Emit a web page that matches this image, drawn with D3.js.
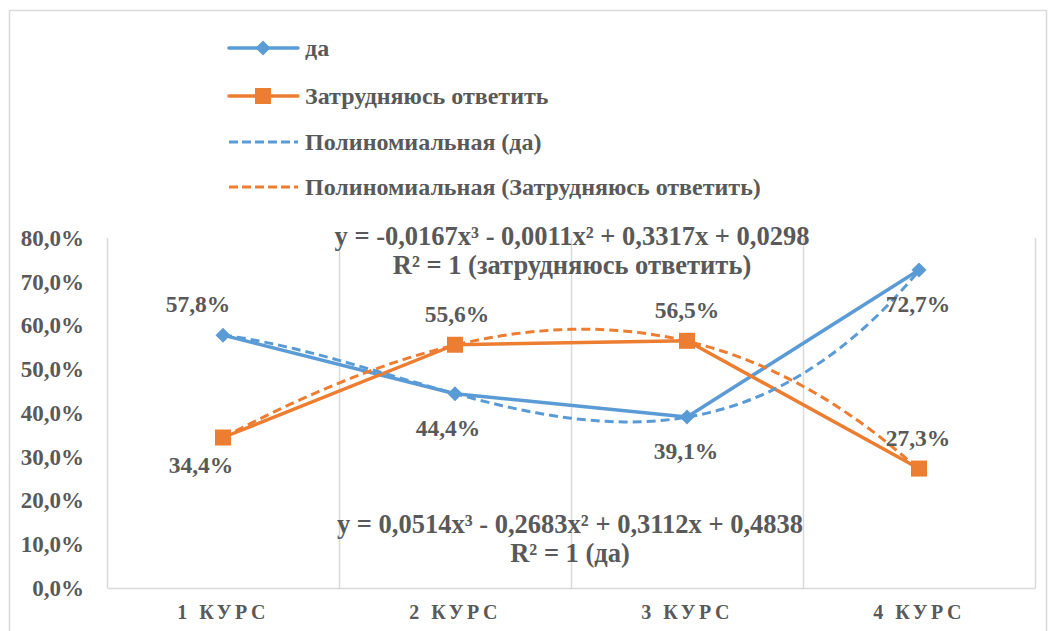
<!DOCTYPE html>
<html><head><meta charset="utf-8">
<script src="https://cdn.jsdelivr.net/npm/d3@7"></script>
<style>
html,body{margin:0;padding:0;background:#fff;}
text{font-family:"Liberation Serif","Times New Roman",serif;font-weight:bold;fill:#595959;}
</style></head>
<body><svg id="c" width="1049" height="631"></svg>
<script>
const categories = ["1 КУРС", "2 КУРС", "3 КУРС", "4 КУРС"];
const seriesDa = [0.578, 0.444, 0.391, 0.727];
const seriesZ = [0.344, 0.556, 0.565, 0.273];
const yTicks = [0, 0.1, 0.2, 0.3, 0.4, 0.5, 0.6, 0.7, 0.8];
// trendline coefficients as shown on chart: [a3, a2, a1, a0]
const trendDaCoef = [0.0514, -0.2683, 0.3112, 0.4838];
const trendZCoef = [-0.0167, -0.0011, 0.3317, 0.0298];
const legendLabels = ["да", "Затрудняюсь ответить", "Полиномиальная (да)", "Полиномиальная (Затрудняюсь ответить)"];
const eqZ = ["y = -0,0167x³ - 0,0011x² + 0,3317x + 0,0298", "R² = 1 (затрудняюсь ответить)"];
const eqDa = ["y = 0,0514x³ - 0,2683x² + 0,3112x + 0,4838", "R² = 1 (да)"];
const labelPosDa = ["above", "below", "below", "below"];
const labelPosZ = ["below", "above", "above", "above"];

const BLUE = "#5B9BD5", ORANGE = "#ED7D31", GRID = "#D9D9D9";
const svg = d3.select("#c");
const loc = d3.formatLocale({decimal: ",", thousands: " ", grouping: [3], currency: ["", ""], percent: "%"});
const fmt = loc.format(".1%");

// outer border
svg.append("rect").attr("x", 9.5).attr("y", 10.5).attr("width", 1037).attr("height", 630)
  .attr("fill", "none").attr("stroke", GRID).attr("stroke-width", 1.5);

const pL = 107, pR = 1035, pT = 238, pB = 588;
const x = d3.scaleBand().domain(categories).range([pL, pR]).paddingInner(0).paddingOuter(0);
const cx = c => x(c) + x.bandwidth() / 2;
const xn = d3.scaleLinear().domain([1, 4]).range([cx(categories[0]), cx(categories[3])]);
const y = d3.scaleLinear().domain([0, 0.8]).range([pB, pT]);

// vertical gridlines at category boundaries
const bounds = categories.map(c => x(c)).concat([x(categories[3]) + x.bandwidth()]);
svg.append("g").selectAll("line").data(bounds).join("line")
  .attr("x1", d => Math.round(d) + 0.5).attr("x2", d => Math.round(d) + 0.5)
  .attr("y1", pT).attr("y2", pB)
  .attr("stroke", GRID).attr("stroke-width", 1.5);

// y axis
const yAxis = svg.append("g").attr("transform", `translate(${pL},0)`)
  .call(d3.axisLeft(y).tickValues(yTicks).tickFormat(fmt).tickSize(0).tickPadding(23));
yAxis.select(".domain").remove();
yAxis.selectAll("text").attr("font-size", 23).style("font-family", "Liberation Serif").style("font-weight", "bold").attr("fill", "#595959");

// x axis
const xAxis = svg.append("g").attr("transform", `translate(0,${pB})`)
  .call(d3.axisBottom(x).tickSize(0).tickPadding(17));
xAxis.select(".domain").attr("stroke", GRID).attr("stroke-width", 1.5);
xAxis.selectAll("text").attr("font-size", 20).style("font-family", "Liberation Serif")
  .style("font-weight", "bold").attr("fill", "#595959").style("letter-spacing", "3.5px");

// series lines
const line = d3.line().x((d, i) => cx(categories[i])).y(d => y(d));
svg.append("path").datum(seriesDa).attr("d", line).attr("fill", "none").attr("stroke", BLUE)
  .attr("stroke-width", 3.5).attr("stroke-linejoin", "round");
svg.append("path").datum(seriesZ).attr("d", line).attr("fill", "none").attr("stroke", ORANGE)
  .attr("stroke-width", 3.5).attr("stroke-linejoin", "round");

// trendlines (from the coefficients displayed on the chart)
function poly(c, t) { return c[0] * t * t * t + c[1] * t * t + c[2] * t + c[3]; }
const ts = d3.range(1, 4.0001, 0.05);
function trendPath(coef) {
  return d3.line().x(t => xn(t)).y(t => y(poly(coef, t))).curve(d3.curveMonotoneX)(ts);
}
svg.append("path").attr("d", trendPath(trendDaCoef)).attr("fill", "none").attr("stroke", BLUE)
  .attr("stroke-width", 3).attr("stroke-dasharray", "9,5");
svg.append("path").attr("d", trendPath(trendZCoef)).attr("fill", "none").attr("stroke", ORANGE)
  .attr("stroke-width", 3).attr("stroke-dasharray", "9,5");

// markers
const diamond = s => `M0,${-s}L${s},0L0,${s}L${-s},0Z`;
svg.append("g").selectAll("path").data(seriesDa).join("path")
  .attr("d", diamond(7.5)).attr("fill", BLUE)
  .attr("transform", (d, i) => `translate(${cx(categories[i])},${y(d)})`);
svg.append("g").selectAll("rect").data(seriesZ).join("rect")
  .attr("x", (d, i) => cx(categories[i]) - 8).attr("y", d => y(d) - 8)
  .attr("width", 16).attr("height", 16).attr("fill", ORANGE);

// data labels
function labels(data, pos, dxs, dyBelow) {
  svg.append("g").selectAll("text").data(data).join("text")
    .attr("x", (d, i) => cx(categories[i]) + dxs[i])
    .attr("y", (d, i) => y(d) + (pos[i] === "above" ? -23 : dyBelow))
    .attr("text-anchor", "middle").attr("font-size", 23.5)
    .text(d => fmt(d));
}
labels(seriesDa, labelPosDa, [-25, -7, -1, -1], 42);
labels(seriesZ, labelPosZ, [-22, 2, 0, -1], 35);

// equation labels
function eq(lines, xc, y0) {
  const t = svg.append("text").attr("text-anchor", "middle").attr("font-size", 26.5);
  lines.forEach((s, i) => t.append("tspan").attr("x", xc).attr("y", y0 + i * 29).text(s));
}
eq(eqZ, 572, 245);
eq(eqDa, 570, 533);

// legend
const lg = svg.append("g");
const rowsY = [48, 96, 142, 187];
legendLabels.forEach((lab, i) => {
  const g = lg.append("g").attr("transform", `translate(0,${rowsY[i]})`);
  const col = (i % 2 === 0) ? BLUE : ORANGE;
  const dash = i >= 2;
  g.append("line").attr("x1", 229).attr("x2", 298).attr("y1", 0).attr("y2", 0)
    .attr("stroke", col).attr("stroke-width", dash ? 3 : 3.5)
    .attr("stroke-dasharray", dash ? "9,4" : null).attr("stroke-linecap", dash ? "butt" : "round");
  if (i === 0) g.append("path").attr("d", diamond(7.5)).attr("fill", col).attr("transform", "translate(263,0)");
  if (i === 1) g.append("rect").attr("x", 255).attr("y", -8).attr("width", 16).attr("height", 16).attr("fill", col);
  g.append("text").attr("x", 305).attr("y", 8).attr("font-size", 24).text(lab);
});
</script></body></html>
